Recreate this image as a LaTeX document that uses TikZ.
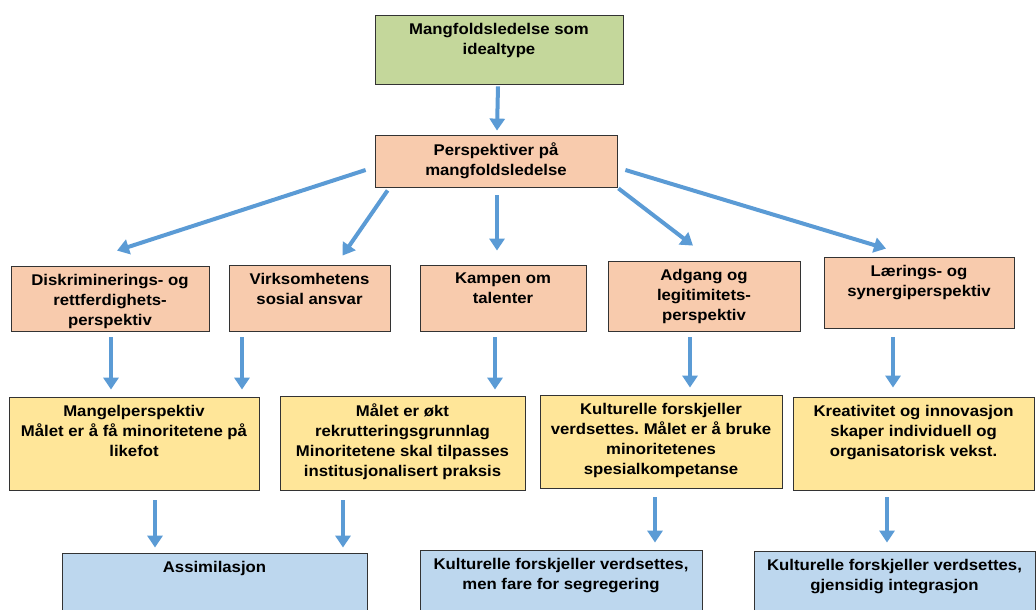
\documentclass[tikz,border=0pt]{standalone}
\usepackage{fontspec}
\setmainfont{Liberation Sans}[FakeStretch=1.08]
\usetikzlibrary{arrows.meta}
\frenchspacing

\definecolor{idealgreen}{RGB}{196,215,155}
\definecolor{perspred}{RGB}{248,203,173}
\definecolor{maalyellow}{RGB}{255,230,153}
\definecolor{utfallblue}{RGB}{189,215,238}
\definecolor{pilblue}{RGB}{91,155,213}

\tikzset{
	box/.style = {draw = black!80, line width = 0.8pt, shape = rectangle, inner sep = 0pt},
	txt/.style = {anchor = north, yshift = -8pt, inner sep = 0pt, align = center,
				  font = \fontsize{15.5}{20}\selectfont\bfseries},
	arr/.style = {draw = pilblue, line width = 4pt,
				  -{Triangle[width = 15pt, length = 12pt]}}
}

\begin{document}
\begin{tikzpicture}[x = 1pt, y = -1pt]
	\useasboundingbox (0, 0) rectangle (1036, 610);
	\clip (0, 0) rectangle (1036, 610);

	% top
	\draw (499, 49.5) node[box, fill = idealgreen,
					  minimum width = 248, minimum height = 69
			   ](ideal){};
	\draw (ideal.north) node[txt](idealtxt){Mangfoldsledelse som\\idealtype};
	\draw (496, 161) node[box, fill = perspred,
					  minimum width = 242, minimum height = 52
			   ](persp){};
	\draw (persp.north) node[txt](persptxt){Perspektiver på\\mangfoldsledelse};

	% perspectives
	\draw (110, 298.5) node[box, fill = perspred,
					  minimum width = 198, minimum height = 65
			   ](diskr){};
	\draw (diskr.north) node[txt](diskrtxt){Diskriminerings- og\\rettferdighets-\\perspektiv};
	\draw (309.5, 298) node[box, fill = perspred,
					  minimum width = 161, minimum height = 66
			   ](virks){};
	\draw (virks.north) node[txt](virkstxt){Virksomhetens\\sosial ansvar};
	\draw (503, 298) node[box, fill = perspred,
					  minimum width = 166, minimum height = 66
			   ](kampen){};
	\draw (kampen.north) node[txt](kampentxt){Kampen om\\talenter};
	\draw (704, 296) node[box, fill = perspred,
					  minimum width = 192, minimum height = 70
			   ](adgang){};
	\draw (adgang.north) node[txt](adgangtxt){Adgang og\\legitimitets-\\perspektiv};
	\draw (919, 292.5) node[box, fill = perspred,
					  minimum width = 190, minimum height = 71
			   ](laer){};
	\draw (laer.north) node[txt](laertxt){Lærings- og\\synergiperspektiv};

	% goals
	\draw (134, 443.5) node[box, fill = maalyellow,
					  minimum width = 250, minimum height = 93
			   ](mangel){};
	\draw (mangel.north) node[txt](mangeltxt){Mangelperspektiv\\Målet er å få minoritetene på\\likefot};
	\draw (402.5, 443) node[box, fill = maalyellow,
					  minimum width = 245, minimum height = 94
			   ](maal){};
	\draw (maal.north) node[txt](maaltxt){Målet er økt\\rekrutteringsgrunnlag\\Minoritetene skal tilpasses\\institusjonalisert praksis};
	\draw (661, 441.5) node[box, fill = maalyellow,
					  minimum width = 242, minimum height = 93
			   ](kult){};
	\draw (kult.north) node[txt](kulttxt){Kulturelle forskjeller\\verdsettes. Målet er å bruke\\minoritetenes\\spesialkompetanse};
	\draw (913.5, 443.5) node[box, fill = maalyellow,
					  minimum width = 241, minimum height = 93
			   ](kreat){};
	\draw (kreat.north) node[txt](kreattxt){Kreativitet og innovasjon\\skaper individuell og\\organisatorisk vekst.};

	% outcomes
	\draw (214.5, 591.5) node[box, fill = utfallblue,
					  minimum width = 305, minimum height = 77
			   ](assim){};
	\draw (assim.north) node[txt](assimtxt){Assimilasjon};
	\draw (561, 590) node[box, fill = utfallblue,
					  minimum width = 282, minimum height = 80
			   ](segr){};
	\draw (segr.north) node[txt](segrtxt){Kulturelle forskjeller verdsettes,\\men fare for segregering};
	\draw (894.5, 590.5) node[box, fill = utfallblue,
					  minimum width = 281, minimum height = 79
			   ](integ){};
	\draw (integ.north) node[txt](integtxt){Kulturelle forskjeller verdsettes,\\gjensidig integrasjon};

	\draw[arr] ([shift = {(-1, 2)}]ideal.south) -- ([shift = {(1, -4)}]persp.north);

	\draw[arr] ([shift = {(-9, 9)}]persp.west) -- ([shift = {(7, -15)}]diskr.north);
	\draw[arr] ([shift = {(13, 3)}]persp.south west) -- ([shift = {(33, -9)}]virks.north);
	\draw[arr] ([shift = {(1, 8)}]persp.south) -- ([shift = {(-6, -14)}]kampen.north);
	\draw[arr] ([shift = {(1, 1)}]persp.south east) -- ([shift = {(-11, -15)}]adgang.north);
	\draw[arr] ([shift = {(8, 9)}]persp.east) -- ([shift = {(-33, -8)}]laer.north);

	\draw[arr] ([shift = {(1, 6)}]diskr.south) -- ([shift = {(-23, -7)}]mangel.north);
	\draw[arr] ([shift = {(-67.5, 6)}]virks.south) -- ([shift = {(108, -7)}]mangel.north);
	\draw[arr] ([shift = {(-8, 6)}]kampen.south) -- ([shift = {(92.5, -6)}]maal.north);
	\draw[arr] ([shift = {(-14, 6)}]adgang.south) -- ([shift = {(29, -7)}]kult.north);
	\draw[arr] ([shift = {(-26, 9)}]laer.south) -- ([shift = {(-20.5, -9)}]kreat.north);

	\draw[arr] ([shift = {(21, 10)}]mangel.south) -- ([shift = {(-59.5, -5)}]assim.north);
	\draw[arr] ([shift = {(-59.5, 10)}]maal.south) -- ([shift = {(128.5, -5)}]assim.north);
	\draw[arr] ([shift = {(-6, 9)}]kult.south) -- ([shift = {(94, -7)}]segr.north);
	\draw[arr] ([shift = {(-26.5, 7)}]kreat.south) -- ([shift = {(-7.5, -8)}]integ.north);
\end{tikzpicture}
\end{document}
